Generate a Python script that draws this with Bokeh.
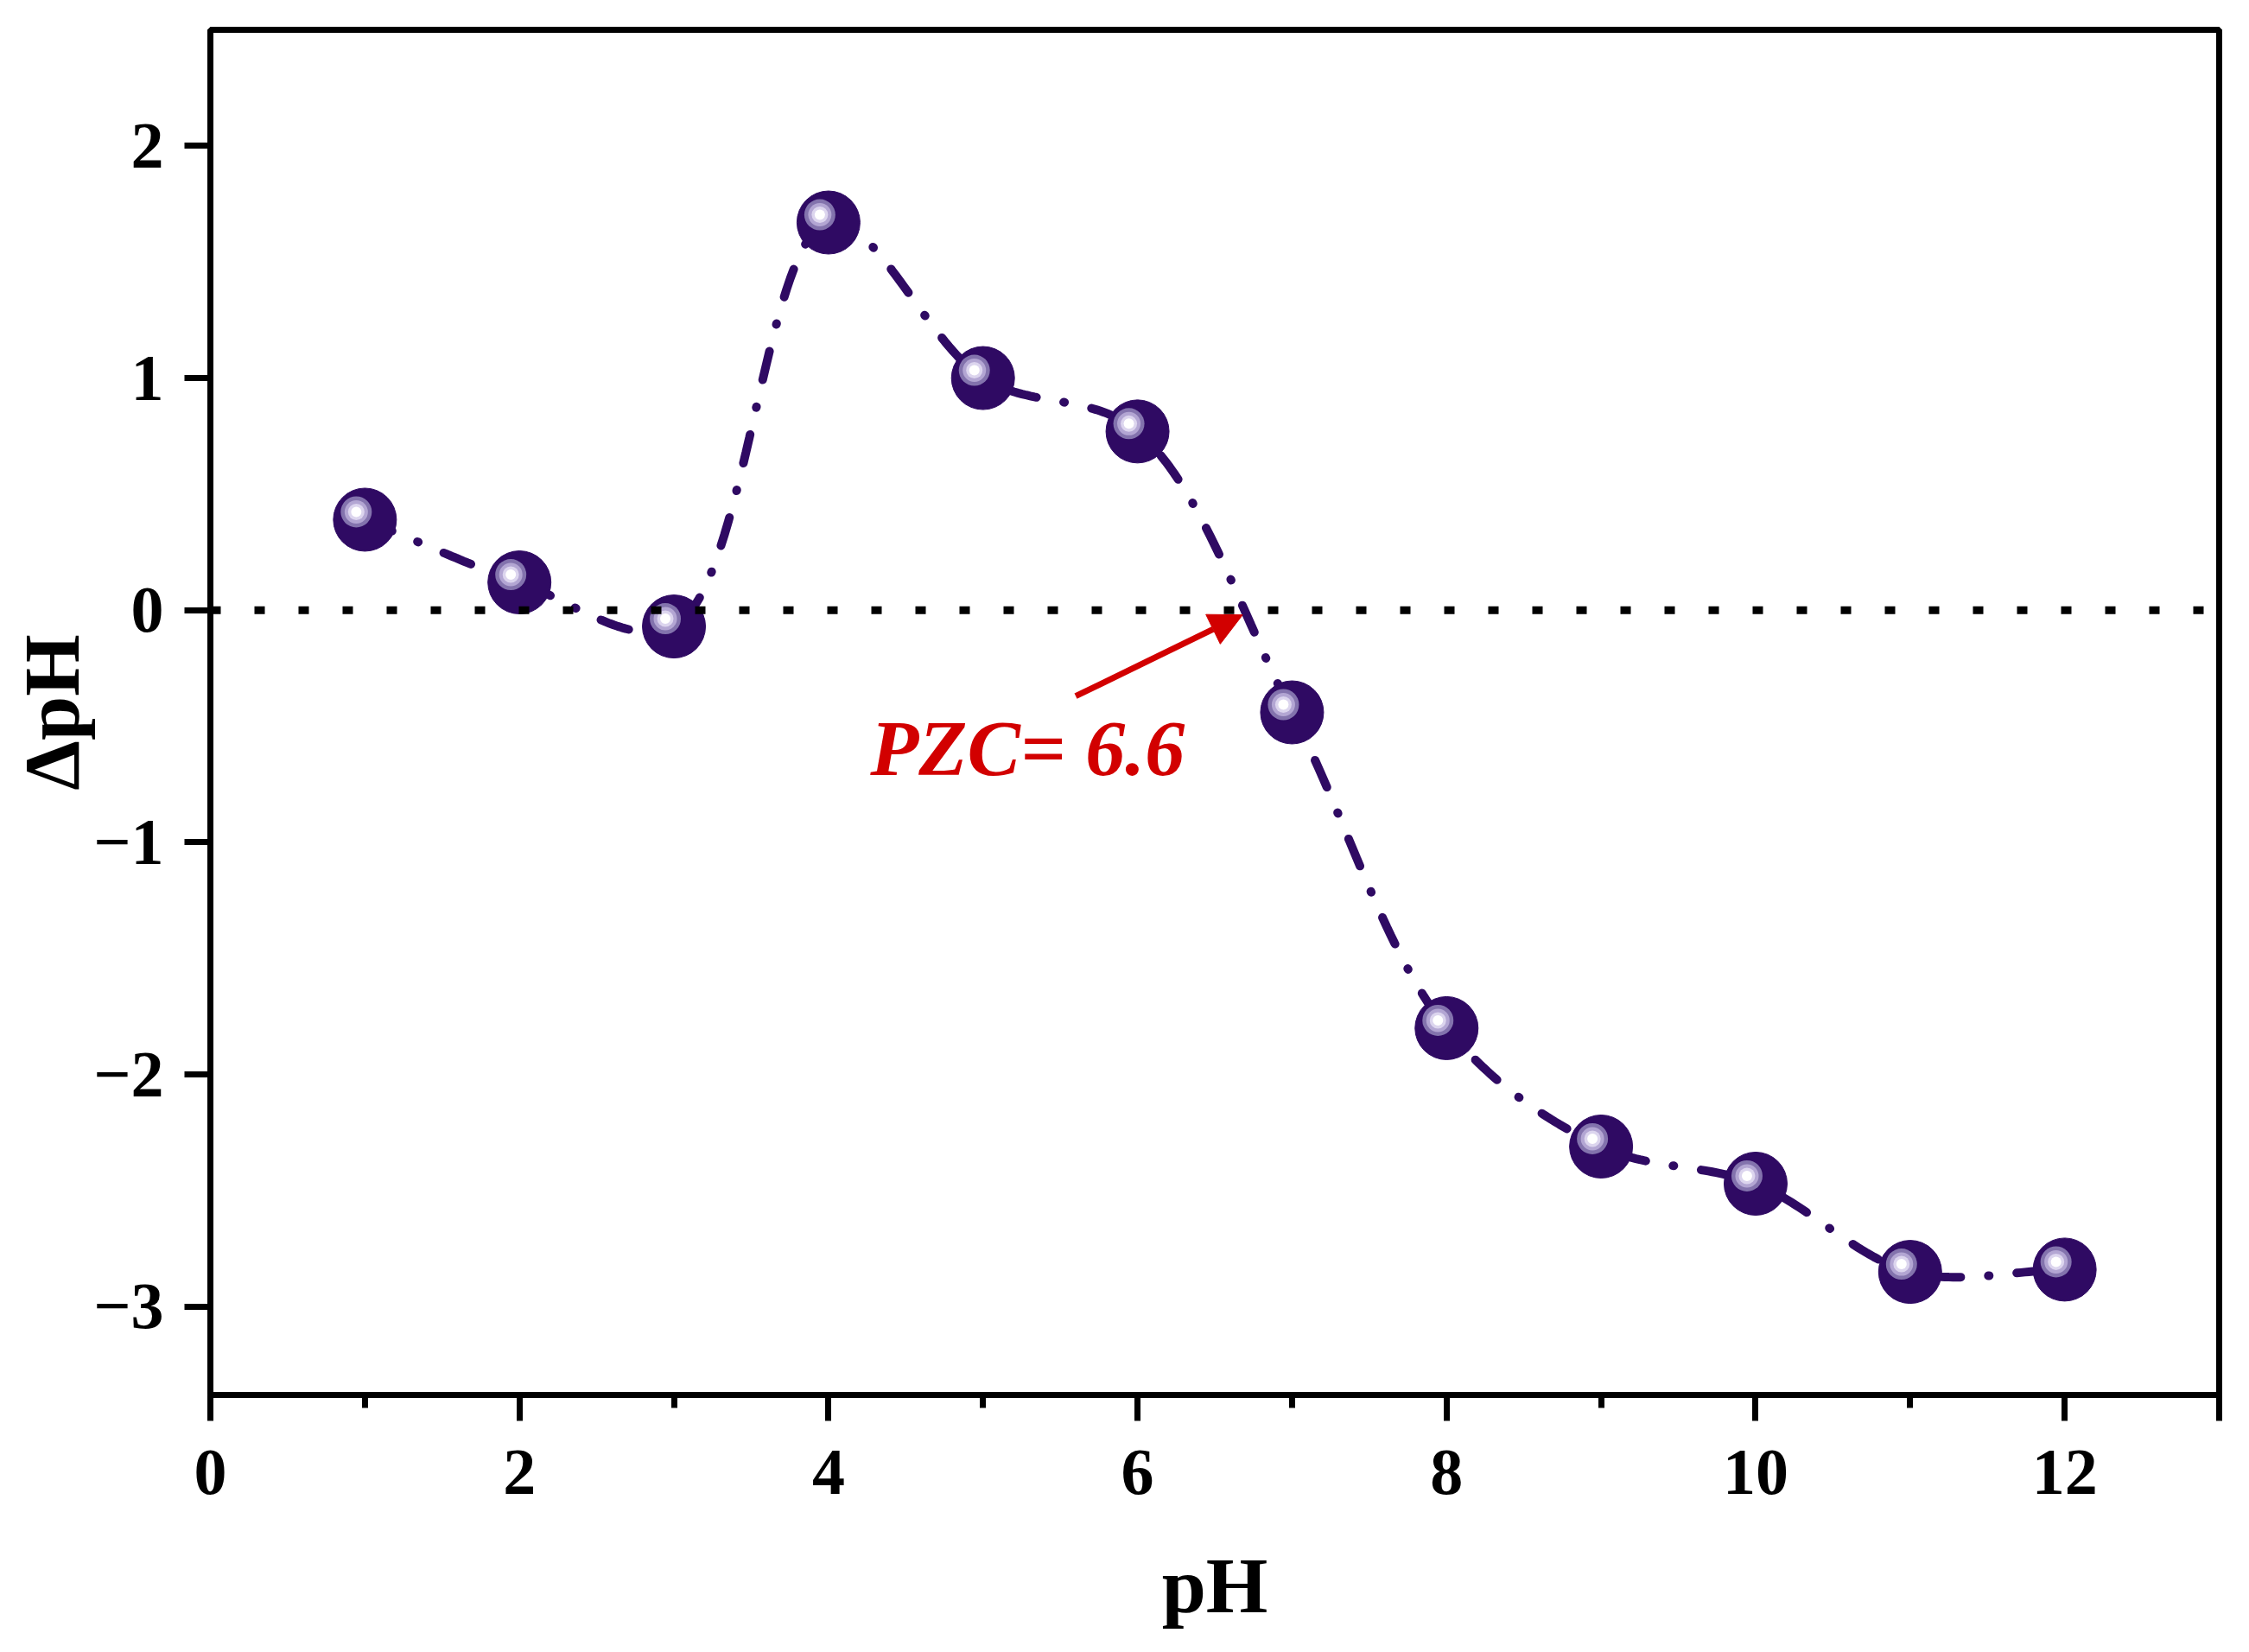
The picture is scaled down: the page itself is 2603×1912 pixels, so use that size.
import numpy as np
from bokeh.plotting import figure
from bokeh.models import Range1d, FixedTicker, Span, Label, Arrow, NormalHead, ColumnDataSource
from bokeh.transform import dodge
from bokeh.embed import file_html
from bokeh.resources import INLINE

# ---- data ----
ph = [1, 2, 3, 4, 5, 6, 7, 8, 9, 10, 11, 12]
delta_ph = [0.39, 0.12, -0.07, 1.67, 1.00, 0.77, -0.44, -1.80, -2.31, -2.47, -2.85, -2.84]
x_ticks = [0, 2, 4, 6, 8, 10, 12, 13]
x_minor = [1, 3, 5, 7, 9, 11]
y_ticks = [-3, -2, -1, 0, 1, 2]
pzc_text = "PZC= 6.6"
pzc_value = 6.68

DARK = "#2f0a63"
RED = "#d20000"
FONT = "'Liberation Serif', Times, serif"

X0, X1, Y0, Y1 = 0, 13, -3.38, 2.5
W, H = 2587, 1896
BL, BR, BT, BB = 243, 19, 34, 282
PX_X = (W - BL - BR) / (X1 - X0)
PX_Y = (H - BT - BB) / (Y1 - Y0)


def centripetal_spline(xs, ys, n=40, alpha=0.5):
    """Centripetal Catmull-Rom spline in screen space through the data points."""
    P = np.column_stack([np.asarray(xs, float) * PX_X, np.asarray(ys, float) * PX_Y])
    P = np.vstack([2 * P[0] - P[1], P, 2 * P[-1] - P[-2]])
    out = []
    for i in range(1, len(P) - 2):
        p0, p1, p2, p3 = P[i - 1], P[i], P[i + 1], P[i + 2]
        t0 = 0.0
        t1 = t0 + np.linalg.norm(p1 - p0) ** alpha
        t2 = t1 + np.linalg.norm(p2 - p1) ** alpha
        t3 = t2 + np.linalg.norm(p3 - p2) ** alpha
        t = np.linspace(t1, t2, n)[:, None]
        a1 = (t1 - t) / (t1 - t0) * p0 + (t - t0) / (t1 - t0) * p1
        a2 = (t2 - t) / (t2 - t1) * p1 + (t - t1) / (t2 - t1) * p2
        a3 = (t3 - t) / (t3 - t2) * p2 + (t - t2) / (t3 - t2) * p3
        b1 = (t2 - t) / (t2 - t0) * a1 + (t - t0) / (t2 - t0) * a2
        b2 = (t3 - t) / (t3 - t1) * a2 + (t - t1) / (t3 - t1) * a3
        c = (t2 - t) / (t2 - t1) * b1 + (t - t1) / (t2 - t1) * b2
        out.append(c if i == 1 else c[1:])
    out = np.vstack(out)
    return list(out[:, 0] / PX_X), list(out[:, 1] / PX_Y)


curve_x, curve_y = centripetal_spline(ph, delta_ph)

p = figure(width=W, height=H, output_backend="svg", toolbar_location=None,
           x_range=Range1d(X0, X1), y_range=Range1d(Y0, Y1),
           min_border_left=BL, min_border_right=BR, min_border_top=BT, min_border_bottom=BB)

p.background_fill_color = "white"
p.border_fill_color = "white"
p.grid.visible = False
p.outline_line_color = "black"
p.outline_line_width = 7

# axes
p.xaxis.ticker = FixedTicker(ticks=x_ticks, minor_ticks=x_minor)
p.yaxis.ticker = FixedTicker(ticks=y_ticks, minor_ticks=[])
p.xaxis.major_label_overrides = {13: ""}
p.yaxis.major_label_overrides = {-3: "\u22123", -2: "\u22122", -1: "\u22121"}
for ax in (p.xaxis, p.yaxis):
    ax.axis_line_width = 7
    ax.axis_line_color = "black"
    ax.major_tick_line_width = 7
    ax.minor_tick_line_width = 7
    ax.major_tick_line_color = "black"
    ax.minor_tick_line_color = "black"
    ax.major_tick_in = 0
    ax.minor_tick_in = 0
    ax.major_tick_out = 30
    ax.minor_tick_out = 15
    ax.major_label_text_font = FONT
    ax.major_label_text_font_style = "bold"
    ax.major_label_text_font_size = "76px"
    ax.major_label_text_color = "black"
    ax.axis_label_text_font = FONT
    ax.axis_label_text_font_style = "bold"
    ax.axis_label_text_font_size = "92px"
    ax.axis_label_text_color = "black"

p.xaxis.major_label_standoff = 34
p.yaxis.major_label_standoff = 24
p.xaxis.axis_label = "pH"
p.yaxis.axis_label = "\u0394pH"
p.xaxis.axis_label_standoff = 52
p.yaxis.axis_label_standoff = -6

# zero reference line
p.add_layout(Span(location=0, dimension="width", line_color="black", line_width=9,
                  line_dash="12 39", line_cap="butt"))

# smooth dash-dot connecting curve
p.line(curve_x, curve_y, line_color=DARK, line_width=10, line_dash="34 32 1 32", line_cap="round")

# spheres
src = ColumnDataSource(data=dict(x=ph, y=delta_ph))
p.scatter("x", "y", source=src, size=73, fill_color=DARK, line_color=DARK, line_width=1)
hx = dodge("x", -10 / PX_X, range=p.x_range)
hy = dodge("y", 9 / PX_Y, range=p.y_range)
for sz, col in [(36, "#8373ad"), (27, "#b3a6d3"), (19, "#dcd5ee"), (12, "white")]:
    p.scatter(x=hx, y=hy, source=src, size=sz, fill_color=col, line_color=None)

# PZC arrow and label
arrow_start = (5.60, -0.37)
p.add_layout(Arrow(end=NormalHead(size=38, fill_color=RED, line_color=RED, line_width=1),
                   x_start=arrow_start[0], y_start=arrow_start[1], x_end=pzc_value, y_end=-0.02,
                   line_color=RED, line_width=7))
p.add_layout(Label(x=4.27, y=-0.595, text=pzc_text, text_font=FONT, text_font_style="bold italic",
                   text_font_size="92px", text_color=RED, text_baseline="alphabetic"))

open("out.html", "w").write(file_html(p, INLINE))
